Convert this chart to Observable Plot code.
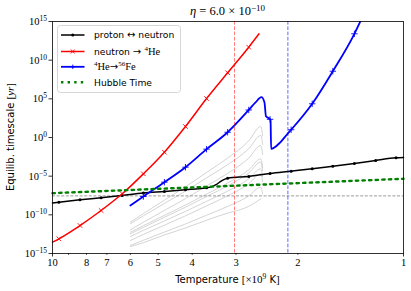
<!DOCTYPE html>
<html><head><meta charset="utf-8">
<script src="https://cdn.jsdelivr.net/npm/d3@7"></script>
<script src="https://cdn.jsdelivr.net/npm/@observablehq/plot@0.6"></script>
<style>
body{margin:0;background:#fff;}
#wrap{position:relative;width:411px;height:291px;}
</style></head><body><div id="wrap"></div>
<script>
// ---------- data (T in 10^9 K, values as log10 of timescale in yr) ----------
const markerT = [9.59,8.35,7.27,6.33,5.51,4.80,4.18,3.64,3.17,2.76,2.40,2.09,1.82,1.59,1.38,1.20,1.05];

const pnT   = [10, 9.59, 8.35, 7.27, 6.33, 5.51, 4.80, 4.18, 3.64, 3.55, 3.42, 3.30, 3.20, 3.17, 2.76, 2.40, 2.09, 1.82, 1.59, 1.38, 1.20, 1.05, 1.0];
const pnLog = [-8.47, -8.37, -8.06, -7.80, -7.50, -7.18, -6.98, -6.76, -6.50, -6.42, -6.10, -5.60, -5.32, -5.26, -5.04, -4.66, -4.36, -4.05, -3.71, -3.36, -2.97, -2.63, -2.59];

const nhT   = [10, 9.59, 8.35, 7.27, 6.33, 5.51, 4.80, 4.18, 3.64, 3.17, 2.76, 2.58];
const nhLog = [-13.54, -13.10, -11.38, -9.44, -7.28, -4.70, -1.90, 1.42, 5.04, 8.37, 11.68, 13.41];

const heT   = [6.0, 5.51, 4.80, 4.18, 3.64, 3.17, 2.76, 2.64, 2.54, 2.49, 2.465, 2.43, 2.40, 2.392, 2.383, 2.24, 2.14, 2.09, 1.82, 1.59, 1.38, 1.30];
const heLog = [-8.79, -7.63, -5.78, -3.84, -1.51, 0.68, 3.56, 4.53, 5.21, 4.56, 2.75, 2.55, 2.35, 2.20, -1.46, -0.59, 0.48, 1.0, 4.36, 8.57, 13.41, 15.9];

const hubT   = [10, 3.16, 1];
const hubLog = [-7.20, -6.27, -5.34];

const grayT = [6.0, 5.51, 4.80, 4.18, 3.64, 3.17, 2.76, 2.55, 2.52];
const gray1 = [-10.95, -9.84, -8.10, -6.37, -4.52, -2.66, -0.44, 1.42, 0.2];
const gray2 = [-11.16, -10.13, -8.53, -6.93, -5.22, -3.51, -1.45, 0.26, -0.9];
const gray3 = [-11.94, -10.96, -9.43, -7.91, -6.27, -4.64, -2.67, -1.04, -2.2];
const gray4 = [-12.25, -11.40, -10.07, -8.74, -7.32, -5.89, -4.18, -2.76, -3.9];
const gray5 = [-12.45, -11.62, -10.32, -9.02, -7.63, -6.25, -4.58, -3.19, -4.3];
const gray6 = [-12.80, -12.01, -10.79, -9.56, -8.25, -6.94, -5.36, -4.05, -5.1];
const gray7 = [-13.32, -12.54, -11.34, -10.13, -8.84, -7.54, -5.99, -4.70, -5.7];
const gray8 = [-13.97, -13.29, -12.23, -11.18, -10.05, -8.92, -7.56, -6.43, -7.3];
const gray9T  = [6.0, 5.51, 4.80, 4.18, 3.64, 3.17, 3.10, 2.76, 2.55];
const gray9   = [-14.1, -13.6, -12.6, -11.7, -10.7, -9.78, -9.66, -8.9, -7.93];

const hLineLog = -7.55;   // grey dashed horizontal
const redVT  = 3.03;      // red dashed vertical
const blueVT = 2.135;     // blue dashed vertical

const yTicks = [-15, -10, -5, 0, 5, 10, 15];
const xMajor = [10, 1];
const xMinor = [2, 3, 4, 5, 6, 7, 8, 9];
const xLabels = [10, 8, 7, 6, 5, 4, 3, 2, 1];

// ---------- build ----------
const pts = (T, L, id) => T.map((t, i) => ({T: t, v: Math.pow(10, L[i]), id}));
const isMark = d => markerT.some(m => Math.abs(m - d.T) < 0.004);

const pn  = pts(pnT, pnLog, "pn");
const nh  = pts(nhT, nhLog, "nh");
const he  = pts(heT, heLog, "he");
const hub = pts(hubT, hubLog, "hub");
const grays = [gray1, gray2, gray3, gray4, gray5, gray6, gray7, gray8].flatMap((g, k) => pts(grayT, g, "g" + k))
  .concat(pts(gray9T, gray9, "g9"));

const serif = "'Liberation Serif', 'DejaVu Serif', serif";
const sans = "'DejaVu Sans', 'Liberation Sans', sans-serif";

const chart = Plot.plot({
  width: 411, height: 291,
  marginLeft: 52, marginRight: 8, marginTop: 21, marginBottom: 38,
  style: {fontFamily: serif, fontSize: "10.5px", background: "white", color: "black"},
  x: {type: "log", domain: [10, 1], label: null, axis: null},
  y: {type: "log", domain: [1e-15, 1e15], label: null},
  marks: [
    Plot.line(grays, {x: "T", y: "v", z: "id", stroke: "#c9c9c9", strokeWidth: 0.8, curve: "monotone-x"}),
    Plot.ruleY([Math.pow(10, hLineLog)], {stroke: "#7f7f7f", strokeWidth: 0.8, strokeDasharray: "3,1.6"}),
    Plot.line(pn, {x: "T", y: "v", stroke: "black", strokeWidth: 1.5, curve: "monotone-x"}),
    Plot.dot(pn.filter(isMark), {x: "T", y: "v", r: 1.5, fill: "black", stroke: "none"}),
    Plot.line(nh, {x: "T", y: "v", stroke: "#ff0000", strokeWidth: 1.5, curve: "monotone-x"}),
    Plot.dot(nh.filter(isMark), {x: "T", y: "v", r: 2.2, symbol: "times", stroke: "#ff0000", strokeWidth: 0.9}),
    Plot.line(he, {x: "T", y: "v", stroke: "#0000ff", strokeWidth: 1.8, curve: "monotone-x", clip: true}),
    Plot.dot(he.filter(isMark), {x: "T", y: "v", r: 2.2, symbol: "plus", stroke: "#0000ff", strokeWidth: 0.9, clip: true}),
    Plot.line(hub, {x: "T", y: "v", stroke: "#008000", strokeWidth: 2.4, strokeDasharray: "2.4,4.2", curve: "linear"}),
    Plot.ruleX([redVT], {stroke: "rgba(255,0,0,0.5)", strokeWidth: 1, strokeDasharray: "3.7,1.6"}),
    Plot.ruleX([blueVT], {stroke: "rgba(0,0,255,0.6)", strokeWidth: 1, strokeDasharray: "3.7,1.6"}),
    Plot.axisY(yTicks.map(e => Math.pow(10, e)), {tickSize: 3.5, tickPadding: 2, tickFormat: d => "10^" + Math.round(Math.log10(d)), stroke: "black", strokeWidth: 0.8}),
    Plot.ruleX(xMajor, {insetTop: 232, insetBottom: -3.5, stroke: "black", strokeWidth: 0.8}),
    Plot.ruleX(xMinor, {insetTop: 232, insetBottom: -2, stroke: "black", strokeWidth: 0.6}),
    Plot.text(xLabels, {x: d => d, frameAnchor: "bottom", lineAnchor: "top", dy: 5.5, text: d => String(d), fontSize: 10.5, fill: "black"}),
    Plot.frame({stroke: "black", strokeWidth: 0.8})
  ]
});
document.getElementById("wrap").appendChild(chart);

const svg = d3.select(chart);
// superscript exponents for y tick labels
svg.selectAll('g[aria-label="y-axis tick label"] text').each(function () {
  const s = this.textContent;
  const parts = s.split("^");
  const el = d3.select(this);
  el.text(parts[0]);
  el.append("tspan").attr("dy", "-0.5em").attr("font-size", "7.5px").text(parts[1].replace("-", "\u2212"));
});

// title
const title = svg.append("text").attr("x", 227.5).attr("y", 15).attr("text-anchor", "middle")
  .attr("font-family", serif).attr("font-size", "12.5px").attr("fill", "black");
title.append("tspan").attr("font-style", "italic").text("\u03b7");
title.append("tspan").text(" = 6.0 \u00d7 10");
title.append("tspan").attr("dy", "-0.45em").attr("font-size", "9px").text("\u221210");

// x label
const xl = svg.append("text").attr("x", 227.5).attr("y", 283).attr("text-anchor", "middle")
  .attr("font-size", "10px").attr("fill", "black");
xl.append("tspan").attr("font-family", sans).text("Temperature ");
xl.append("tspan").attr("font-family", serif).attr("font-size", "11px").text("[\u00d710");
xl.append("tspan").attr("font-family", serif).attr("font-size", "7.5px").attr("dy", "-0.55em").text("9");
xl.append("tspan").attr("font-family", sans).attr("dy", "0.4em").text(" K");
xl.append("tspan").attr("font-family", serif).attr("font-size", "11px").text("]");

// y label
const yl = svg.append("text").attr("transform", "translate(14,137) rotate(-90)").attr("text-anchor", "middle")
  .attr("font-size", "10px").attr("fill", "black");
yl.append("tspan").attr("font-family", sans).text("Equilib. timescale ");
yl.append("tspan").attr("font-family", serif).attr("font-size", "11px").text("[");
yl.append("tspan").attr("font-family", serif).attr("font-style", "italic").attr("font-size", "11px").text("yr");
yl.append("tspan").attr("font-family", serif).attr("font-size", "11px").text("]");

// legend
const lg = svg.append("g").attr("transform", "translate(57,25)");
lg.append("rect").attr("x", 0.5).attr("y", 0.5).attr("width", 123).attr("height", 67).attr("rx", 3)
  .attr("fill", "rgba(255,255,255,0.8)").attr("stroke", "#cccccc").attr("stroke-width", 0.8);
const rows = [10, 26.5, 41.8, 57.3];
const sw = (y, color, w, dash) => lg.append("line").attr("x1", 4).attr("x2", 27.5).attr("y1", y).attr("y2", y)
  .attr("stroke", color).attr("stroke-width", w).attr("stroke-dasharray", dash || null);
sw(rows[0], "black", 1.5);
lg.append("circle").attr("cx", 15.75).attr("cy", rows[0]).attr("r", 1.5).attr("fill", "black");
sw(rows[1], "#ff0000", 1.5);
lg.append("path").attr("d", `M13.8,${rows[1]-2}L17.7,${rows[1]+2}M13.8,${rows[1]+2}L17.7,${rows[1]-2}`).attr("stroke", "#ff0000").attr("stroke-width", 0.9);
sw(rows[2], "#0000ff", 1.8);
lg.append("path").attr("d", `M15.75,${rows[2]-2.2}V${rows[2]+2.2}M13.5,${rows[2]}H18`).attr("stroke", "#0000ff").attr("stroke-width", 0.9);
sw(rows[3], "#008000", 2.4, "2.4,4.2");

const lt = (y) => lg.append("text").attr("x", 37).attr("y", y + 3.3).attr("text-anchor", "start")
  .attr("font-size", "9.2px").attr("fill", "black");
let t = lt(rows[0]);
t.append("tspan").attr("font-family", sans).text("proton ");
t.append("tspan").attr("font-family", sans).attr("font-size", "10px").text("\u2194");
t.append("tspan").attr("font-family", sans).text(" neutron");
t = lt(rows[1]);
t.append("tspan").attr("font-family", sans).text("neutron ");
t.append("tspan").attr("font-family", sans).attr("font-size", "10px").text("\u2192 ");
t.append("tspan").attr("font-family", serif).attr("font-size", "7px").attr("dy", "-0.55em").text("4");
t.append("tspan").attr("font-family", serif).attr("font-size", "10.5px").attr("dy", "0.37em").text("He");
t = lt(rows[2]);
t.append("tspan").attr("font-family", serif).attr("font-size", "7px").attr("dy", "-0.55em").text("4");
t.append("tspan").attr("font-family", serif).attr("font-size", "10.5px").attr("dy", "0.37em").text("He");
t.append("tspan").attr("font-family", sans).attr("font-size", "10px").text("\u2192");
t.append("tspan").attr("font-family", serif).attr("font-size", "7px").attr("dy", "-0.55em").text("56");
t.append("tspan").attr("font-family", serif).attr("font-size", "10.5px").attr("dy", "0.37em").text("Fe");
t = lt(rows[3]);
t.append("tspan").attr("font-family", sans).text("Hubble Time");
</script>
</body></html>
